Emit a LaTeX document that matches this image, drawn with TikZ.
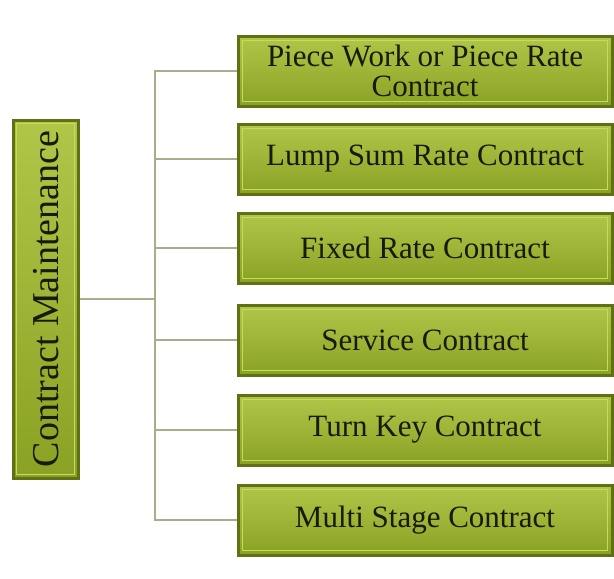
\documentclass[tikz,border=0pt]{standalone}
\usepackage{fontspec}
\setmainfont{Liberation Serif}
\definecolor{olivetop}{RGB}{176,198,72}
\definecolor{olivebot}{RGB}{138,162,36}
\definecolor{oliveedge}{RGB}{96,112,20}
\definecolor{olivelight}{RGB}{198,218,92}
\definecolor{connector}{RGB}{168,174,140}
\definecolor{textdark}{RGB}{24,26,6}
\begin{document}
\begin{tikzpicture}[x=1pt,y=-1pt,
  greenbox/.style={draw=oliveedge, line width=3pt, top color=olivetop, bottom color=olivebot,
    inner sep=0pt},
  boxtext/.style={align=center, text=textdark, font=\fontsize{31}{30}\selectfont},
  branch/.style={draw=connector, line width=1.4pt},
  bevel/.style={draw=olivelight, line width=1.3pt}]
\useasboundingbox (0,0) rectangle (614,579);
% root box
\node[greenbox, minimum width=65pt, minimum height=358pt] (root) at (45.5,299) {};
\draw[bevel] ([xshift=5pt,yshift=-5pt]root.north west) rectangle ([xshift=-5pt,yshift=5pt]root.south east);
\node[rotate=90, text=textdark, font=\fontsize{38}{38}\selectfont] (rootlabel) at ([xshift=1pt]root.center) {Contract Maintenance};
% right boxes
\foreach \n/\y/\t in {b1/71/{Piece Work or Piece Rate\\Contract},
                      b2/159/{Lump Sum Rate Contract},
                      b3/248/{Fixed Rate Contract},
                      b4/340/{Service Contract},
                      b5/430/{Turn Key Contract},
                      b6/520/{Multi Stage Contract}}{
  \node[greenbox, minimum width=374pt, minimum height=70pt] (\n) at (425,\y) {};
  \draw[bevel] ([xshift=6pt,yshift=-6pt]\n.north west) rectangle ([xshift=-6pt,yshift=6pt]\n.south east);
  \node[boxtext] (\n-label) at (\n.center) {\t};
}
% connectors
\coordinate (trunk) at (155,299);
\draw[branch] (root.east) -- (trunk);
\foreach \n in {b1,b2,b3,b4,b5,b6}{
  \draw[branch] (trunk) |- (\n.west);
}
\end{tikzpicture}
\end{document}
